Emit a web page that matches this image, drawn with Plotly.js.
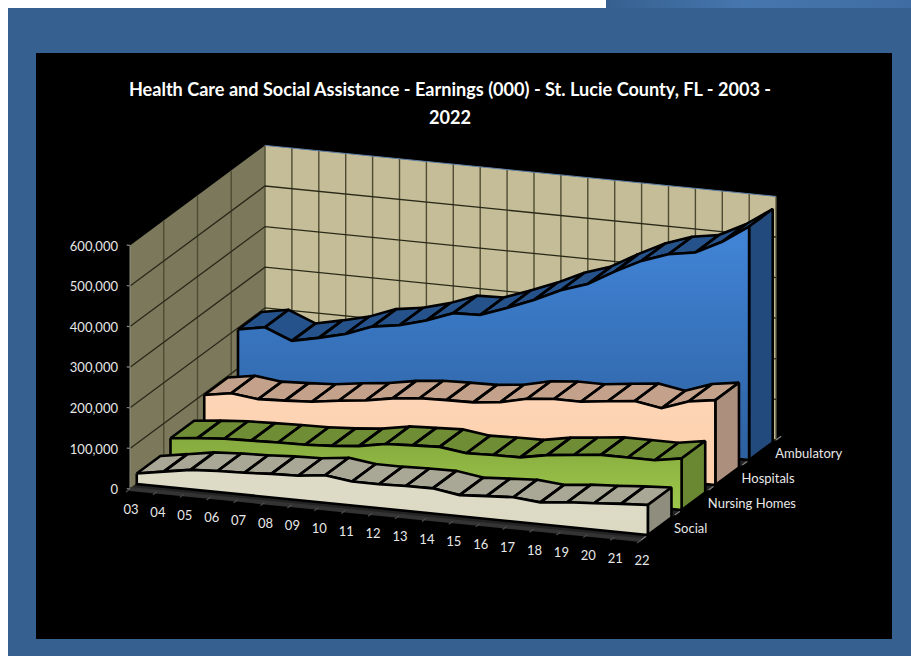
<!DOCTYPE html>
<html>
<head>
<meta charset="utf-8">
<title>Health Care and Social Assistance - Earnings</title>
<script src="https://cdn.plot.ly/plotly-3.0.1.min.js"></script>
<style>html,body{margin:0;padding:0;background:#fff;overflow:hidden}#chart{width:911px;height:656px}</style>
</head>
<body>
<div id="chart"></div>
<script>
// Earnings in thousands of dollars, 2003-2022, by sector.
const categories = ['03','04','05','06','07','08','09','10','11','12','13','14','15','16','17','18','19','20','21','22'];
const sectorNames = ['Social','Nursing Homes','Hospitals','Ambulatory'];
const social = [26000,37000,48000,52000,54000,58000,60000,68000,59000,59000,61000,62000,52000,56000,60000,54000,61000,65000,70000,74000];
const nursingHomes = [51000,58000,63000,65000,67000,68000,72000,78000,90000,93000,96000,87000,89000,90000,102000,109000,116000,116000,116000,127000];
const hospitals = [96000,107000,99000,102000,106000,115000,122000,134000,141000,143000,144000,151000,166000,172000,172000,180000,187000,176000,199000,209000];
const ambulatory = [196000,208000,181000,195000,211000,236000,246000,264000,289000,291000,315000,341000,372000,394000,431000,464000,487000,498000,531000,575000];
const valueTicks = [0,100000,200000,300000,400000,500000,600000];
const titleLine1 = 'Health Care and Social Assistance - Earnings (000) - St. Lucie County, FL - 2003 -';
const titleLine2 = '2022';

// Fill colours of each ribbon: front gradient (lower stop, upper stop), top facets, end cap.
const ribbonStyles = [
  {values: social,       front: ['#dcd9c3','#dedbc7'], top: '#a9a796', cap: '#8f8e7e'},
  {values: nursingHomes, front: ['#9dc94c','#86aa3e'], top: '#6f8d35', cap: '#6a8732'},
  {values: hospitals,    front: ['#fdd0ac','#fdd5b6'], top: '#c4a18a', cap: '#ad8f7d'},
  {values: ambulatory,   front: ['#2c609f','#4285d8'], top: '#25528a', cap: '#234a7c'}
];

// Oblique chart scale: category index, depth step and value to page position.
const ORIGIN_X = 130, ORIGIN_Y = 489;
const CAT_DX = 26.9, CAT_DY = 2.684;
const DEPTH_DX = 33.75, DEPTH_DY = 25;
const PX_PER_VALUE = 40.6 / 100000;
const RIBBON_FRONT = 0.2, RIBBON_DEPTH = 0.7;
const LAST = categories.length - 1;
const DEPTHS = sectorNames.length;
const TOP_VALUE = valueTicks[valueTicks.length - 1];
const TITLE_FONT = {family: 'Lato, "Open Sans", sans-serif', size: 18.1, color: '#ffffff', weight: 700};
const LABEL_FONT = {family: 'Lato, "Open Sans", sans-serif', size: 13, color: '#e8e8e8'};
const OUTLINE = 2.6;

function px(i, d) { return ORIGIN_X + i * CAT_DX + d * DEPTH_DX; }
function py(i, d, v) { return ORIGIN_Y + i * CAT_DY - d * DEPTH_DY - v * PX_PER_VALUE; }

// Builds a closed or open path trace from [category, depth, value] triples.
function path(points, opts) {
  const t = {
    type: 'scatter', mode: 'lines', hoverinfo: 'skip', showlegend: false,
    x: [], y: [],
    line: {color: opts.line || 'rgba(0,0,0,0)', width: opts.width || 0, simplify: false}
  };
  points.forEach(p => {
    if (p === null) { t.x.push(null); t.y.push(null); return; }
    t.x.push(px(p[0], p[1]));
    t.y.push(py(p[0], p[1], p[2]));
  });
  if (opts.fill) { t.fill = 'toself'; t.fillcolor = opts.fill; }
  if (opts.gradient) {
    t.fill = 'toself';
    t.fillgradient = {type: 'vertical', colorscale: [[0, opts.gradient[0]], [1, opts.gradient[1]]]};
  }
  return t;
}

const traces = [];

// Page strip along the top edge.
traces.push({
  type: 'scatter', mode: 'lines', hoverinfo: 'skip', showlegend: false,
  x: [606, 911, 911, 606, 606], y: [0, 0, 8, 8, 0], line: {width: 0}, fill: 'toself',
  fillgradient: {type: 'horizontal', colorscale: [[0, '#36608f'], [0.45, '#4676ae'], [1, '#3f6da3']]}
});

// Walls and floor.
traces.push(path([[0,0,0],[LAST,0,0],[LAST,DEPTHS,0],[0,DEPTHS,0],[0,0,0]], {fill: '#232323'}));
traces.push(path([[0,0,0],[0,DEPTHS,0],[0,DEPTHS,TOP_VALUE],[0,0,TOP_VALUE],[0,0,0]], {fill: '#7b785c'}));
traces.push(path([[0,DEPTHS,0],[LAST,DEPTHS,0],[LAST,DEPTHS,TOP_VALUE],[0,DEPTHS,TOP_VALUE],[0,DEPTHS,0]], {fill: '#c4bd97'}));

// Gridlines.
const hGrid = [], vGrid = [];
valueTicks.slice(0, -1).forEach(v => {
  hGrid.push([0,0,v],[0,DEPTHS,v],[LAST,DEPTHS,v],null);
});
categories.forEach((c, i) => { vGrid.push([i,DEPTHS,0],[i,DEPTHS,TOP_VALUE],null); });
for (let d = 1; d < DEPTHS; d++) vGrid.push([0,d,0],[0,d,TOP_VALUE],null);
traces.push(path(vGrid, {line: '#4f4c33', width: 1.4}));
traces.push(path(hGrid, {line: '#2a2918', width: 1.3}));
traces.push(path([[0,DEPTHS,TOP_VALUE],[LAST,DEPTHS,TOP_VALUE]], {line: '#5d7ea6', width: 1}));
traces.push(path([[0,0,TOP_VALUE],[0,0,0]], {line: '#8d8d80', width: 1}));

// Floor edge with its tick marks.
traces.push(path([[0,0,0],[LAST,0,0]], {line: '#333333', width: 4}));
const categoryTicks = categories.map((c, i) => i).flatMap(i => [[i,0,0],[i,-0.12,0],null]);
traces.push(path(categoryTicks, {line: '#4d4d4d', width: 1.2}));
const edgeTicks = [];
valueTicks.forEach(v => { edgeTicks.push([0,0,v],[-0.12,0,v],null); });
for (let d = 0; d <= DEPTHS; d++) edgeTicks.push([LAST,d,0],[LAST,d + 0.15,0],null);
traces.push(path(edgeTicks, {line: '#858585', width: 1.2}));

// Ribbons, painted from the back row to the front row.
for (let s = DEPTHS - 1; s >= 0; s--) {
  const style = ribbonStyles[s];
  const v = style.values;
  const df = s + RIBBON_FRONT;
  const db = df + RIBBON_DEPTH;
  const facets = [];
  for (let i = 0; i < LAST; i++) {
    facets.push([i,df,v[i]],[i + 1,df,v[i + 1]],[i + 1,db,v[i + 1]],[i,db,v[i]],[i,df,v[i]],null);
  }
  traces.push(path(facets, {fill: style.top, line: '#000', width: OUTLINE}));
  traces.push(path([[LAST,df,0],[LAST,db,0],[LAST,db,v[LAST]],[LAST,df,v[LAST]],[LAST,df,0]],
    {fill: style.cap, line: '#000', width: OUTLINE}));
  const outline = v.map((val, i) => [i, df, val]);
  outline.push([LAST,df,0],[0,df,0],[0,df,v[0]]);
  traces.push(path(outline, {gradient: style.front, line: '#000', width: OUTLINE}));
}

// Axis labels.
traces.push({
  type: 'scatter', mode: 'text', hoverinfo: 'skip', showlegend: false, cliponaxis: false,
  x: valueTicks.map(() => 118),
  y: valueTicks.map(v => py(0, 0, v) + 2),
  text: valueTicks.map(v => v.toLocaleString('en-US')),
  textposition: 'middle left', textfont: LABEL_FONT
});
traces.push({
  type: 'scatter', mode: 'text', hoverinfo: 'skip', showlegend: false, cliponaxis: false,
  x: categories.map((c, i) => px(i, 0) + 1),
  y: categories.map((c, i) => py(i, 0, 0) + 22),
  text: categories,
  textposition: 'middle center', textfont: LABEL_FONT
});
traces.push({
  type: 'scatter', mode: 'text', hoverinfo: 'skip', showlegend: false, cliponaxis: false,
  x: sectorNames.map((n, d) => px(LAST, d) + 33),
  y: sectorNames.map((n, d) => py(LAST, d, 0) - 10),
  text: sectorNames,
  textposition: 'middle right', textfont: LABEL_FONT
});

const layout = {
  width: 911, height: 656,
  margin: {l: 0, r: 0, t: 0, b: 0, pad: 0},
  paper_bgcolor: '#ffffff', plot_bgcolor: 'rgba(0,0,0,0)',
  showlegend: false, hovermode: false,
  title: {
    text: titleLine1,
    x: 450 / 911, xanchor: 'center', xref: 'paper',
    y: 1 - 90 / 656, yanchor: 'middle', yref: 'paper',
    font: TITLE_FONT
  },
  annotations: [
    {text: titleLine2, xref: 'x', yref: 'y', x: 450, y: 117, showarrow: false, xanchor: 'center', yanchor: 'middle', font: TITLE_FONT}
  ],
  xaxis: {visible: false, range: [0, 911], fixedrange: true},
  yaxis: {visible: false, range: [656, 0], fixedrange: true},
  shapes: [
    {type: 'rect', xref: 'x', yref: 'y', x0: 8, x1: 911, y0: 8, y1: 656, layer: 'below', line: {width: 0}, fillcolor: '#36608f'},
    {type: 'rect', xref: 'x', yref: 'y', x0: 36, x1: 892, y0: 53, y1: 639, layer: 'below', line: {width: 0}, fillcolor: '#000000'}
  ]
};

Plotly.newPlot('chart', traces, layout, {displayModeBar: false, staticPlot: true});
</script>
</body>
</html>
